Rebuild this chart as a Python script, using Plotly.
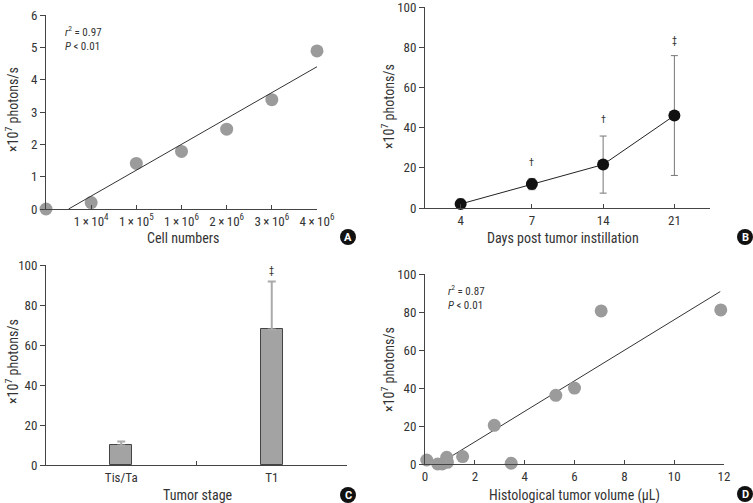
import plotly.graph_objects as go

W, H = 753, 503
FONT = "Roboto Condensed"
TXT = "#333333"
TS = "\u2009"

# Panel A
cell_labels = ["0"] + [f"{a}{TS}×{TS}10<sup>{b}</sup>" for a, b in
                       [(1, 4), (1, 5), (1, 6), (2, 6), (3, 6), (4, 6)]]
cell_signal = [0.0, 0.2, 1.41, 1.78, 2.47, 3.38, 4.89]
cell_fit_x = [0.5, 6.0]
cell_fit_y = [0.0, 4.4]

# Panel B
days = ["4", "7", "14", "21"]
days_mean = [2.0, 11.9, 21.6, 46.0]
days_sd = [2.5, 2.8, 14.2, 29.8]
days_marks = ["", "†", "†", "‡"]
days_mark_y = [0, 22.5, 44.0, 83.5]

# Panel C
stages = ["Tis/Ta", "T1"]
stage_mean = [9.8, 67.8]
stage_sd = [2.0, 23.9]
stage_marks = ["", "‡"]
stage_mark_y = [0, 97.5]

# Panel D
vol_x = [0.07, 0.51, 0.69, 0.87, 0.90, 1.51, 2.78, 3.46, 5.25, 6.0, 7.07, 11.87]
vol_y = [2.1, 0.0, 0.0, 3.5, 0.9, 3.9, 20.4, 0.4, 36.2, 40.0, 80.7, 81.2]
vol_fit_x = [0.55, 11.85]
vol_fit_y = [0.0, 90.9]


def px(x):
    return x / W


def py(y):
    return 1 - y / H


fig = go.Figure()

PT_GRAY = "#9b9b9b"

# A
fig.add_trace(go.Scatter(x=cell_fit_x, y=cell_fit_y, mode="lines", line=dict(color="#333", width=1),
                         xaxis="x5", yaxis="y", showlegend=False, hoverinfo="skip"))
fig.add_trace(go.Scatter(x=cell_labels, y=cell_signal, mode="markers",
                         marker=dict(color=PT_GRAY, size=13, line=dict(width=0)), xaxis="x", yaxis="y",
                         showlegend=False, cliponaxis=False))

# B
fig.add_trace(go.Scatter(x=days, y=days_mean, mode="lines+markers",
                         line=dict(color="#222", width=1),
                         marker=dict(color="#111", size=12, line=dict(width=0)),
                         error_y=dict(type="data", array=days_sd, color="#777", thickness=1, width=3.5),
                         xaxis="x2", yaxis="y2", showlegend=False, cliponaxis=False))

# C
fig.add_trace(go.Bar(x=stages, y=stage_mean, width=0.147,
                     marker=dict(color="#a3a3a3", line=dict(color="#444", width=1)),
                     error_y=dict(type="data", array=stage_sd, arrayminus=[0, 0], color="#aaaaaa",
                                  thickness=2, width=4),
                     xaxis="x3", yaxis="y3", showlegend=False))

# D
fig.add_trace(go.Scatter(x=vol_fit_x, y=vol_fit_y, mode="lines", line=dict(color="#333", width=1),
                         xaxis="x4", yaxis="y4", showlegend=False, hoverinfo="skip"))
fig.add_trace(go.Scatter(x=vol_x, y=vol_y, mode="markers",
                         marker=dict(color=PT_GRAY, size=13, line=dict(width=0)), xaxis="x4", yaxis="y4",
                         showlegend=False, cliponaxis=False))

tickfont = dict(family=FONT, size=13, color=TXT)
axbase = dict(showgrid=False, zeroline=False, showline=True, linecolor="#444", linewidth=1,
              tickfont=tickfont, tickcolor="#444", ticklen=5, automargin=False, mirror=False,
              ticklabeloverflow="allow")

fig.update_layout(
    template="none",
    width=W, height=H, margin=dict(l=0, r=0, t=0, b=0, pad=0, autoexpand=False),
    paper_bgcolor="white", plot_bgcolor="white",
    font=dict(family=FONT, color=TXT),
    xaxis=dict(axbase, domain=[px(46), px(317)], type="category", categoryorder="array",
               categoryarray=cell_labels, range=[0, 6], tickvals=cell_labels[1:],
               ticks="inside", ticklen=4, anchor="y"),
    xaxis5=dict(domain=[px(46), px(317)], range=[0, 6], visible=False, anchor="y", overlaying="x",
                automargin=False),
    yaxis=dict(axbase, domain=[py(209), py(15)], range=[0, 6], dtick=1, ticks="outside", anchor="x"),
    xaxis2=dict(axbase, domain=[px(425), px(710)], type="category", range=[-0.5, 3.5],
                ticks="inside", ticklen=4, anchor="y2"),
    yaxis2=dict(axbase, domain=[py(208), py(7)], range=[0, 100], dtick=20, ticks="outside", anchor="x2"),
    xaxis3=dict(axbase, domain=[px(46), px(347)], type="category", range=[-0.5, 1.5],
                ticks="inside", tickson="boundaries", ticklen=4, anchor="y3"),
    yaxis3=dict(axbase, domain=[py(465), py(265)], range=[0, 100], dtick=20, ticks="outside", anchor="x3"),
    xaxis4=dict(axbase, domain=[px(425), px(724)], range=[0, 12], dtick=2, ticks="inside", ticklen=4,
                anchor="y4"),
    yaxis4=dict(axbase, domain=[py(464), py(274.3)], range=[0, 100], dtick=20, ticks="outside",
                anchor="x4"),
    bargap=0,
)

ann = []
YT = "×10<sup>7</sup> photons/s"


def paper_text(text, x, y, size=14, angle=0, xanchor="center", color=TXT, yanchor="middle"):
    ann.append(dict(text=text, x=px(x), y=py(y), xref="paper", yref="paper", showarrow=False,
                    xanchor=xanchor, yanchor=yanchor, textangle=angle, align="left",
                    font=dict(family=FONT, size=size, color=color)))


paper_text("Cell numbers", 183, 238)
paper_text("Days post tumor instillation", 563, 238)
paper_text("Tumor stage", 198, 495)
paper_text("Histological tumor volume (μL)", 574, 495)
paper_text(YT, 12, 110, angle=-90)
paper_text(YT, 388, 107, angle=-90)
paper_text(YT, 12, 362, angle=-90)
paper_text(YT, 388, 370, angle=-90)

paper_text("<i>r</i><sup>2</sup> = 0.97<br><i>P</i> < 0.01", 63, 39, size=11, xanchor="left")
paper_text("<i>r</i><sup>2</sup> = 0.87<br><i>P</i> < 0.01", 446, 297, size=11, xanchor="left")

for i, (m, yv) in enumerate(zip(days_marks, days_mark_y)):
    if m:
        ann.append(dict(text=m, x=i, y=yv, xref="x2", yref="y2", showarrow=False,
                        font=dict(family=FONT, size=10, color=TXT)))
for i, (m, yv) in enumerate(zip(stage_marks, stage_mark_y)):
    if m:
        ann.append(dict(text=m, x=i, y=yv, xref="x3", yref="y3", showarrow=False,
                        font=dict(family=FONT, size=10, color=TXT)))

shapes = []
for letter, cx, cy in [("A", 348, 237), ("B", 745, 237), ("C", 348, 495), ("D", 745, 494)]:
    r = 8
    shapes.append(dict(type="circle", xref="paper", yref="paper",
                       x0=px(cx - r), x1=px(cx + r), y0=py(cy + r), y1=py(cy - r),
                       fillcolor="#111", line=dict(color="#111", width=0)))
    ann.append(dict(text="<b>" + letter + "</b>", x=px(cx), y=py(cy), xref="paper", yref="paper",
                    showarrow=False, xanchor="center", yanchor="middle",
                    font=dict(family="Roboto", size=11, color="white")))

fig.update_layout(annotations=ann, shapes=shapes)
fig.write_html("out.html",
               post_script="document.body.style.margin='0';document.body.style.overflow='hidden';",
               config={"displayModeBar": False})
